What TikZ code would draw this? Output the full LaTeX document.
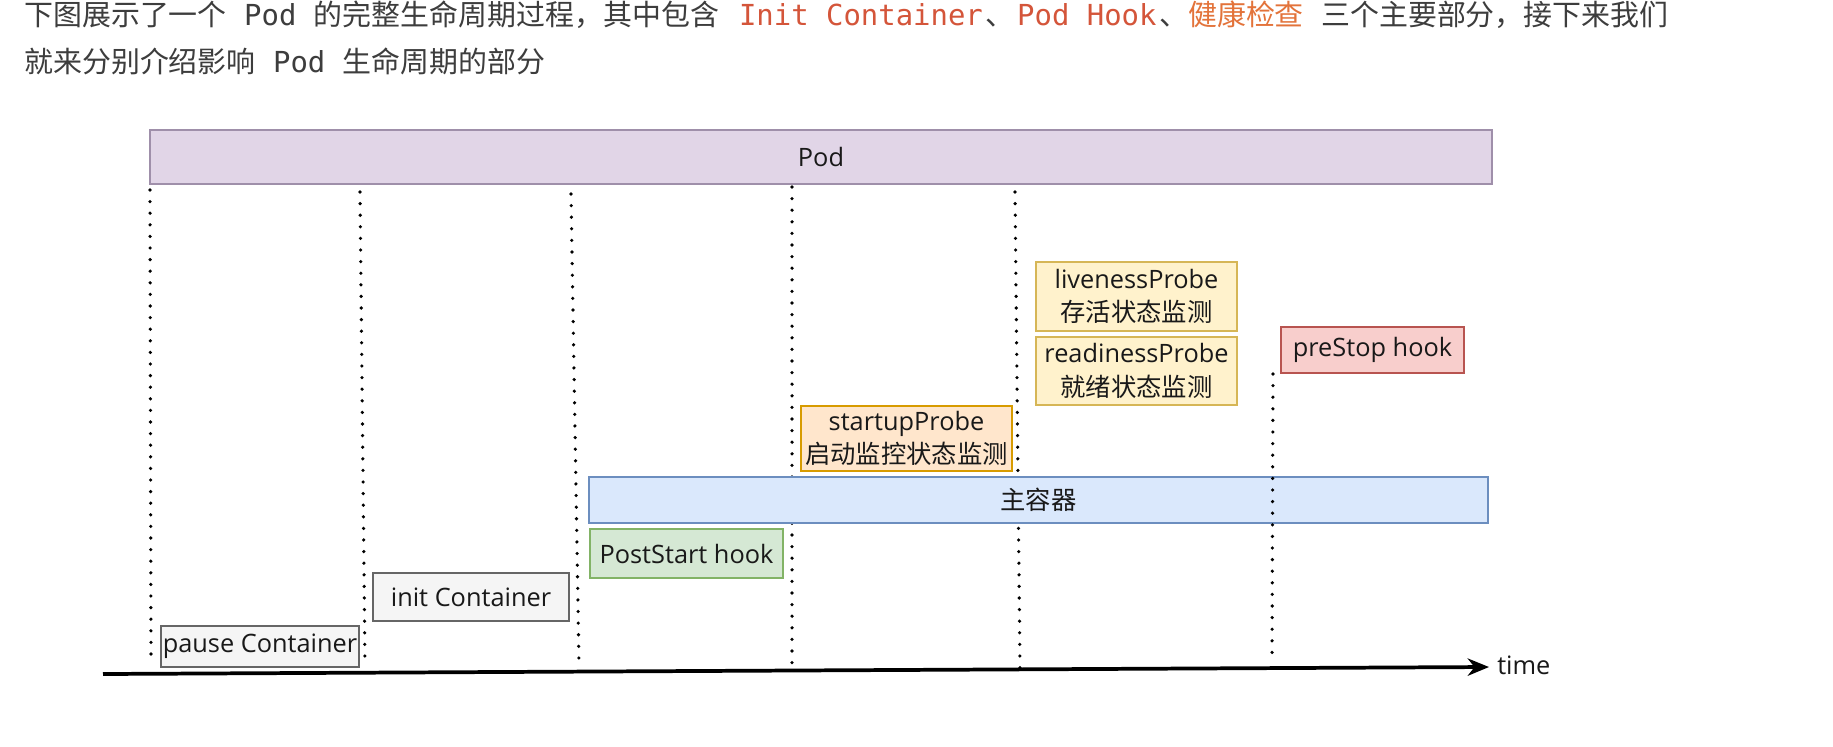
\documentclass[tikz,border=0pt]{standalone}
\usepackage{fontspec}
\setmainfont{Open Sans}
\newfontfamily\cjk{Noto Sans CJK SC}
\newfontfamily\codefont{DejaVu Sans Mono}
\usetikzlibrary{arrows.meta}
\definecolor{txtgray}{HTML}{3D3D3D}
\definecolor{codered}{HTML}{D4553A}
\definecolor{hlorange}{HTML}{E3733A}
\definecolor{podfill}{HTML}{E1D5E7}
\definecolor{podline}{HTML}{9F8FAA}
\definecolor{grayfill}{HTML}{F5F5F5}
\definecolor{grayline}{HTML}{666666}
\definecolor{greenfill}{HTML}{D5E8D4}
\definecolor{greenline}{HTML}{82B366}
\definecolor{bluefill}{HTML}{DAE8FC}
\definecolor{blueline}{HTML}{6C8EBF}
\definecolor{orangefill}{HTML}{FFE6CC}
\definecolor{orangeline}{HTML}{D79B00}
\definecolor{yellowfill}{HTML}{FFF2CC}
\definecolor{yellowline}{HTML}{D6B656}
\definecolor{redfill}{HTML}{F8CECC}
\definecolor{redline}{HTML}{B85450}
\newcommand\mcode[1]{{\codefont\fontsize{21.7}{26}\selectfont#1}}
\newcommand\rcode[1]{\hspace{2pt}{\codefont\fontsize{21.7}{26}\selectfont\color{codered}#1}\hspace{2pt}}
\tikzset{
  hdr/.style={anchor=base west, inner sep=0pt, text=txtgray, font=\cjk\fontsize{21.7}{26}\selectfont},
  box/.style={draw, line width=1.1pt, inner sep=0pt, align=center, text=black!90,
              font=\fontsize{19}{25}\selectfont},
  marker/.style={line width=2.7pt, line cap=round, dash pattern=on 0pt off 8.7pt},
  axis/.style={line width=2.8pt, -{Stealth[length=16pt,width=13pt]}},
}
\begin{document}
\begin{tikzpicture}[x=0.75pt,y=-0.75pt]
\useasboundingbox (0,0) rectangle (1833,746);
\fill[white] (0,0) rectangle (1833,746);

% header text
\node[hdr] (line1) at (24,26) {下图展示了一个\mcode{~Pod~}的完整生命周期过程，其中包含\mcode{~}\rcode{Init Container}、\rcode{Pod Hook}、{\color{hlorange}健康检查}\mcode{~}三个主要部分，接下来我们};
\node[hdr] (line2) at (24,72.5) {就来分别介绍影响\mcode{~Pod~}生命周期的部分};

% timeline markers
\coordinate (m1t) at (150,190); \coordinate (m1b) at (151,661);
\coordinate (m2t) at (360,192); \coordinate (m2b) at (365,664);
\coordinate (m3t) at (571,194); \coordinate (m3b) at (579,665);
\coordinate (m4t) at (792,187); \coordinate (m4b) at (792,666);
\coordinate (m5t) at (1015,192); \coordinate (m5b) at (1020,669);
\coordinate (m6t) at (1273,374); \coordinate (m6b) at (1272,662);
\draw[marker] (m1t) -- (m1b);
\draw[marker] (m2t) -- (m2b);
\draw[marker] (m3t) -- (m3b);
\draw[marker] (m4t) -- (m4b);
\draw[marker] (m5t) -- (m5b);

% boxes
\node[box, fill=podfill, draw=podline, minimum width=1006.5pt, minimum height=40.5pt] (pod) at (821,157) {Pod};
\node[box, fill=grayfill, draw=grayline, minimum width=148.5pt, minimum height=30.75pt] (pause) at (260,646.5) {pause Container};
\node[box, fill=grayfill, draw=grayline, minimum width=147pt, minimum height=36pt] (init) at (471,597) {init Container};
\node[box, fill=greenfill, draw=greenline, minimum width=144.75pt, minimum height=36.75pt] (post) at (686.5,553.5) {PostStart hook};
\node[box, fill=bluefill, draw=blueline, minimum width=674.25pt, minimum height=34.5pt] (main) at (1038.5,500) {\cjk 主容器};
\node[box, fill=orangefill, draw=orangeline, minimum width=158.25pt, minimum height=48.75pt] (startup) at (906.5,438.5) {startupProbe\\{\cjk 启动监控状态监测}};
\node[box, fill=yellowfill, draw=yellowline, minimum width=150.75pt, minimum height=51.75pt] (live) at (1136.5,296.5) {livenessProbe\\{\cjk 存活状态监测}};
\node[box, fill=yellowfill, draw=yellowline, minimum width=150.75pt, minimum height=51pt] (ready) at (1136.5,371) {readinessProbe\\{\cjk 就绪状态监测}};
\node[box, fill=redfill, draw=redline, minimum width=137.25pt, minimum height=34.5pt] (prestop) at (1372.5,350) {preStop hook};

\draw[marker] (m6t) -- (m6b);

% time axis
\coordinate (ax0) at (103,674);
\coordinate (ax1) at (1489,667);
\draw[axis] (ax0) -- (ax1);
\node[anchor=west, inner sep=0pt, font=\fontsize{19}{25}\selectfont, text=black!90] (time) at (1497,665) {time};
\end{tikzpicture}
\end{document}
